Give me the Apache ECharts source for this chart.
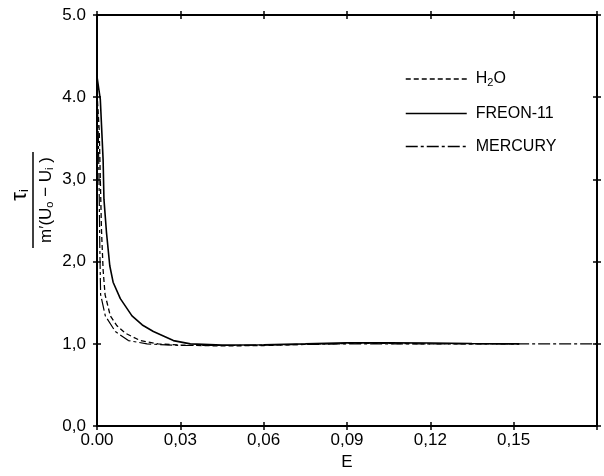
<!DOCTYPE html>
<html>
<head>
<meta charset="utf-8">
<script src="https://cdn.jsdelivr.net/npm/echarts@6/dist/echarts.min.js"></script>
<style>html,body{margin:0;padding:0;background:#fff}#c{width:604px;height:476px}</style>
</head>
<body>
<div id="c"></div>
<script>
// ---- data ----
var xTickLabels = ['0.00', '0,03', '0,06', '0,09', '0,12', '0,15', ''];
var yTickLabels = ['0,0', '1,0', '2,0', '3,0', '4.0', '5.0'];
var seriesNames = ['H2O', 'FREON-11', 'MERCURY'];

var h2o = [[0, 4.05], [0.0008, 3.6], [0.0012, 3.0], [0.0016, 2.4], [0.0022, 1.9], [0.0029, 1.6],
  [0.0048, 1.34], [0.0072, 1.22], [0.0102, 1.13], [0.0156, 1.04], [0.022, 1.0], [0.03, 0.985],
  [0.045, 0.975], [0.06, 0.98], [0.075, 0.995], [0.09, 1.005], [0.105, 1.005], [0.12, 1.0], [0.152, 1.0]];

var freon = [[0, 4.25], [0.0012, 3.97], [0.0019, 3.97], [0.0022, 3.24], [0.0025, 2.76], [0.0034, 2.36],
  [0.0046, 1.95], [0.0058, 1.75], [0.0084, 1.55], [0.0126, 1.34], [0.0163, 1.23], [0.0203, 1.15],
  [0.0275, 1.04], [0.0336, 1.0], [0.045, 0.985], [0.06, 0.99], [0.075, 1.0], [0.09, 1.012],
  [0.105, 1.012], [0.12, 1.01], [0.135, 1.005], [0.152, 1.0]];

var mercury = [[0, 4.1], [0.0005, 3.5], [0.0008, 2.8], [0.001, 2.2], [0.0013, 1.6], [0.003, 1.34],
  [0.0066, 1.15], [0.0113, 1.04], [0.018, 1.0], [0.03, 0.98], [0.05, 0.98], [0.07, 0.99],
  [0.09, 1.0], [0.12, 1.0], [0.15, 1.0], [0.18, 1.0]];

// ---- chart ----
var FONT = 'Liberation Sans';
var chart = echarts.init(document.getElementById('c'), null, {renderer: 'canvas'});

function xAx(pos, inside, showLabel, showLine) {
  return {
    type: 'value', position: pos, min: 0, max: 0.18, interval: 0.03,
    axisLine: {show: showLine, onZero: false, lineStyle: {color: '#000', width: 2}},
    axisTick: {show: true, inside: inside, length: 4, lineStyle: {color: '#000', width: 1.5}},
    axisLabel: {show: showLabel, margin: 6, color: '#000', fontFamily: FONT, fontSize: 17,
      formatter: function (v) { return xTickLabels[Math.round(v / 0.03)]; }},
    splitLine: {show: false},
    name: showLabel ? 'E' : '', nameLocation: 'middle', nameGap: 27,
    nameTextStyle: {color: '#000', fontFamily: FONT, fontSize: 17}
  };
}
function yAx(pos, inside, showLabel, showLine) {
  return {
    type: 'value', position: pos, min: 0, max: 5, interval: 1,
    axisLine: {show: showLine, onZero: false, lineStyle: {color: '#000', width: 2}},
    axisTick: {show: true, inside: inside, length: 4, lineStyle: {color: '#000', width: 1.5}},
    axisLabel: {show: showLabel, margin: 11, color: '#000', fontFamily: FONT, fontSize: 17,
      formatter: function (v) { return yTickLabels[Math.round(v)]; }},
    splitLine: {show: false}
  };
}

var option = {
  backgroundColor: '#fff',
  animation: false,
  grid: {left: 97, right: 7, top: 15, bottom: 48, containLabel: false},
  xAxis: [xAx('bottom', false, true, true), xAx('bottom', true, false, false),
          xAx('top', false, false, true), xAx('top', true, false, false)],
  yAxis: [yAx('left', false, true, true), yAx('left', true, false, false),
          yAx('right', false, false, true), yAx('right', true, false, false)],
  legend: {
    orient: 'vertical', left: 405, top: 71, padding: 0,
    itemWidth: 61, itemHeight: 14, itemGap: 17,
    itemStyle: {opacity: 0},
    lineStyle: {width: 1.5},
    data: seriesNames,
    formatter: function (n) { return n === 'H2O' ? '{n|H}{s|2}{n|O}' : '{n|' + n + '}'; },
    textStyle: {color: '#000', fontFamily: FONT, fontSize: 16, padding: [0, 0, 0, 4],
      rich: {n: {fontFamily: FONT, fontSize: 16, color: '#000'},
             s: {fontFamily: FONT, fontSize: 11, color: '#000', padding: [8, 0, 0, 0]}}}
  },
  graphic: [{
    type: 'group', x: 33, y: 200, rotation: Math.PI / 2,
    children: [
      {type: 'line', shape: {x1: -48, y1: 0, x2: 48, y2: 0}, style: {stroke: '#000', lineWidth: 1.5}},
      {type: 'text', x: 5, y: -13, style: {text: '{t|τ}{s|i}', align: 'center', verticalAlign: 'middle',
        rich: {t: {fontFamily: FONT, fontSize: 22, fill: '#000'},
               s: {fontFamily: FONT, fontSize: 13, fill: '#000', padding: [8, 0, 0, 0]}}}},
      {type: 'text', x: 0, y: 13, style: {text: '{n|m′(U}{s|o}{n| − U}{s|i}{n| )}', align: 'center', verticalAlign: 'middle',
        rich: {n: {fontFamily: FONT, fontSize: 17, fill: '#000'},
               s: {fontFamily: FONT, fontSize: 11, fill: '#000', padding: [7, 0, 0, 0]}}}}
    ]
  }],
  series: [
    {name: 'H2O', type: 'line', data: h2o, symbol: 'none', xAxisIndex: 0, yAxisIndex: 0,
     lineStyle: {color: '#000', width: 1.3, type: [5, 3]}, itemStyle: {color: '#000'}},
    {name: 'FREON-11', type: 'line', data: freon, symbol: 'none', xAxisIndex: 0, yAxisIndex: 0,
     lineStyle: {color: '#000', width: 1.6, type: 'solid'}, itemStyle: {color: '#000'}},
    {name: 'MERCURY', type: 'line', data: mercury, symbol: 'none', xAxisIndex: 0, yAxisIndex: 0,
     lineStyle: {color: '#000', width: 1.2, type: [12, 3, 3, 3]}, itemStyle: {color: '#000'}}
  ]
};
chart.setOption(option);
</script>
</body>
</html>
